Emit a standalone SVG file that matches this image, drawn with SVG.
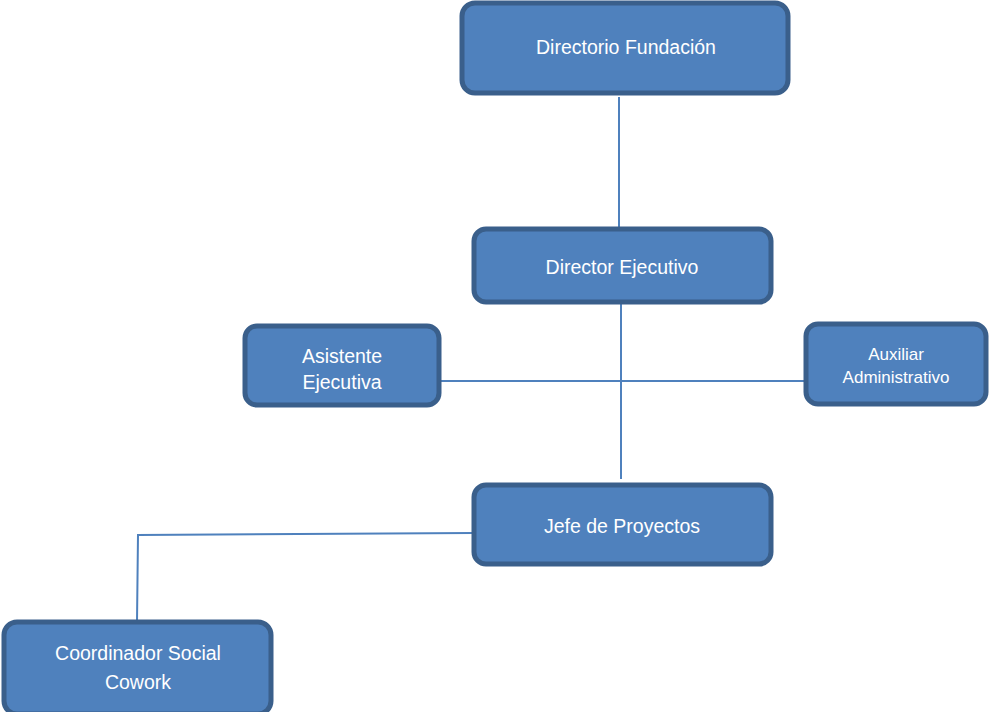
<svg xmlns="http://www.w3.org/2000/svg" width="990" height="712" viewBox="0 0 990 712">
<style>
.box{fill:#4F81BD;stroke:#3A5F8B;stroke-width:5}
.t{font-family:"Liberation Sans",Arial,sans-serif;font-size:19.5px;fill:#FFFFFF;text-anchor:middle}
.s{font-size:17px}
.c{fill:none;stroke:#4F81BD;stroke-width:2}
</style>
<rect width="990" height="712" fill="#FFFFFF"/>
<g id="connectors">
<line class="c" x1="619" y1="97" x2="619" y2="229"/>
<line class="c" x1="621" y1="290" x2="621" y2="479"/>
<line class="c" x1="441" y1="381" x2="805" y2="381"/>
<polyline class="c" points="473,533 138,535 137,622"/>
</g>
<g id="n1">
<rect class="box" x="462" y="3" width="326" height="90" rx="13"/>
<text class="t" x="626" y="54">Directorio Fundación</text>
</g>
<g id="n2">
<rect class="box" x="474" y="229" width="297" height="73" rx="12"/>
<text class="t" x="622" y="274">Director Ejecutivo</text>
</g>
<g id="n3">
<rect class="box" x="245" y="326" width="194" height="79" rx="12"/>
<text class="t" x="342" y="363">Asistente</text>
<text class="t" x="342" y="389">Ejecutiva</text>
</g>
<g id="n4">
<rect class="box" x="806" y="324" width="180" height="80" rx="12"/>
<text class="t s" x="896" y="360">Auxiliar</text>
<text class="t s" x="896" y="383">Administrativo</text>
</g>
<g id="n5">
<rect class="box" x="474" y="485" width="297" height="79" rx="12"/>
<text class="t" x="622" y="533">Jefe de Proyectos</text>
</g>
<g id="n6">
<rect class="box" x="4" y="622" width="267" height="92" rx="13"/>
<text class="t" x="138" y="660">Coordinador Social</text>
<text class="t" x="138" y="689">Cowork</text>
</g>
</svg>
